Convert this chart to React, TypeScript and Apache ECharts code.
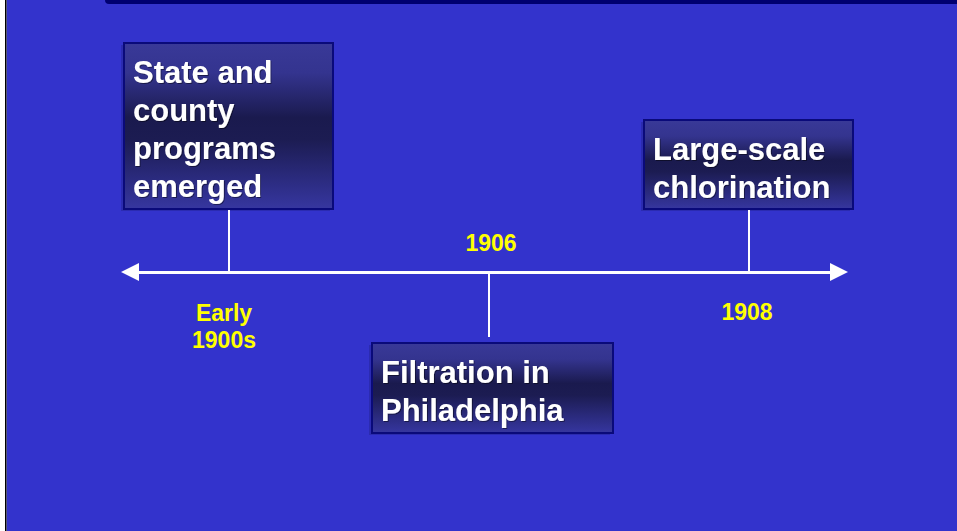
import React, { useEffect, useRef } from "react";
import * as echarts from "echarts";

// ---- data ----
const eventIndex = [0, 1, 2];
const yearLabels = ["Early\n1900s", "1906", "1908"];
const eventTexts = [
  "State and\ncounty\nprograms\nemerged",
  "Filtration in\nPhiladelphia",
  "Large-scale\nchlorination",
];

// ---- layout (pixels relative to each event's point on the timeline) ----
const layout = [
  { boxX: -105, boxY: -229, boxW: 209, boxH: 166, lineY0: -63, lineY1: 0, labelX: -5, labelY: 54 },
  { boxX: -117, boxY: 71, boxW: 241, boxH: 90, lineY0: 0, lineY1: 65, labelX: 2, labelY: -29 },
  { boxX: -105, boxY: -152, boxW: 209, boxH: 89, lineY0: -63, lineY1: 0, labelX: -2, labelY: 40 },
];

const FONT = "Liberation Sans, Arial, Helvetica, sans-serif";

export default function App() {
  const ref = useRef<HTMLDivElement>(null);

  useEffect(() => {
    if (!ref.current) return;
    const chart = echarts.init(ref.current, undefined, { renderer: "svg" });

    const boxFill = () =>
      new echarts.graphic.LinearGradient(0, 0, 0, 1, [
        { offset: 0, color: "#393998" },
        { offset: 0.18, color: "#34348f" },
        { offset: 0.45, color: "#1a1a4e" },
        { offset: 0.58, color: "#1c1c52" },
        { offset: 1, color: "#3636a0" },
      ]);

    const renderItem = (params: any, api: any) => {
      const i = params.dataIndex;
      const L = layout[i];
      const p = api.coord([api.value(0), api.value(1)]);
      const cx = Math.round(p[0]);
      const cy = Math.round(p[1]);
      const bx = cx + L.boxX;
      const by = cy + L.boxY;
      return {
        type: "group",
        children: [
          {
            type: "rect",
            shape: { x: bx - 3, y: by + 2, width: L.boxW, height: L.boxH },
            style: { fill: "#2b2bb0" },
          },
          {
            type: "line",
            shape: { x1: cx, y1: cy + L.lineY0, x2: cx, y2: cy + L.lineY1 },
            style: { stroke: "#ffffff", lineWidth: 2 },
          },
          {
            type: "rect",
            shape: { x: bx, y: by, width: L.boxW, height: L.boxH },
            style: { fill: boxFill(), stroke: "#0a0a7a", lineWidth: 2 },
          },
          {
            type: "text",
            x: bx + 9,
            y: by + 10,
            style: {
              text: eventTexts[i],
              fill: "#ffffff",
              font: `bold 31px ${FONT}`,
              lineHeight: 38,
              align: "left",
              verticalAlign: "top",
              textShadowColor: "rgba(0,0,0,0.45)",
              textShadowOffsetX: 1,
              textShadowOffsetY: 1,
              textShadowBlur: 1,
            },
          },
          {
            type: "text",
            x: cx + L.labelX,
            y: cy + L.labelY,
            style: {
              text: yearLabels[i],
              fill: "#ffff00",
              font: `bold 23px ${FONT}`,
              lineHeight: 27,
              align: "center",
              verticalAlign: "middle",
            },
          },
        ],
      };
    };

    chart.setOption({
      animation: false,
      backgroundColor: "#3333cc",
      grid: { left: 130, right: 118, top: 0, bottom: 259 },
      xAxis: {
        type: "value",
        min: -0.38,
        max: 2.346,
        axisLine: {
          show: true,
          symbol: ["triangle", "triangle"],
          symbolSize: [18, 18],
          lineStyle: { color: "#ffffff", width: 3 },
        },
        axisTick: { show: false },
        axisLabel: { show: false },
        splitLine: { show: false },
      },
      yAxis: { type: "value", min: 0, max: 1, show: false },
      series: [
        {
          type: "custom",
          clip: false,
          renderItem,
          data: eventIndex.map((v) => [v, 0]),
        },
      ],
      graphic: [
        { type: "rect", shape: { x: 0, y: 0, width: 5, height: 531 }, style: { fill: "#ffffff" } },
        { type: "rect", shape: { x: 5, y: 0, width: 1, height: 531 }, style: { fill: "#000000" } },
        { type: "rect", shape: { x: 6, y: 0, width: 1, height: 531 }, style: { fill: "#555577" } },
        { type: "rect", shape: { x: 105, y: -10, width: 870, height: 14, r: 4 }, style: { fill: "#000070" } },
      ],
    });

    return () => chart.dispose();
  }, []);

  return (
    <div
      ref={ref}
      style={{ position: "fixed", left: 0, top: 0, width: 957, height: 531 }}
    />
  );
}
